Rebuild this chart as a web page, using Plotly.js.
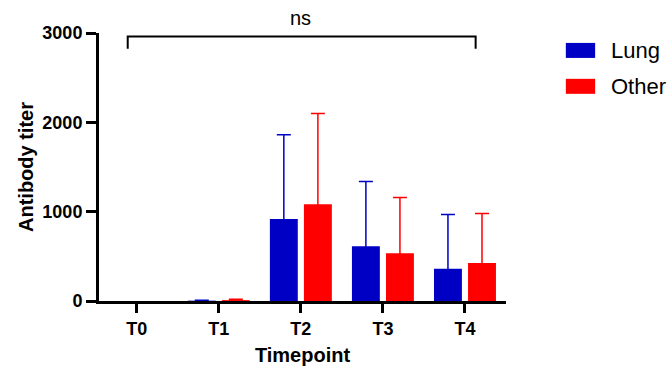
<!DOCTYPE html>
<html><head><meta charset="utf-8">
<script src="https://cdn.plot.ly/plotly-3.0.1.min.js"></script>
<style>html,body{margin:0;padding:0;background:#fff}#chart{width:670px;height:372px}</style>
</head><body><div id="chart"></div>
<script>
const categories = ["T0", "T1", "T2", "T3", "T4"];
const seriesNames = ["Lung", "Other"];
const lungValues = [0, 4, 919, 613, 362];
const lungErrors = [null, 4, 942, 724, 605];
const otherValues = [0, 10, 1084, 535, 426];
const otherErrors = [null, 10, 1016, 623, 553];
const yTicks = [0, 1000, 2000, 3000];
const sigLabel = "ns";

const colors = ["#0000C4", "#FF0000"];
const font = "Liberation Sans, Arial, sans-serif";

function mkTrace(name, vals, errs, color) {
  return {
    type: "bar", name: name, x: categories, y: vals,
    marker: {color: color, line: {width: 0}},
    error_y: {type: "data", symmetric: false,
      array: errs.map(e => e == null ? undefined : e),
      arrayminus: vals.map((v, i) => errs[i] == null ? undefined : v),
      color: color, thickness: 1.5, width: 7},
    showlegend: false, cliponaxis: false
  };
}
const data = [
  mkTrace(seriesNames[0], lungValues, lungErrors, colors[0]),
  mkTrace(seriesNames[1], otherValues, otherErrors, colors[1])
];

const legendShapes = [], legendAnn = [];
seriesNames.forEach((n, i) => {
  const top = 0.963 - i * 0.134;
  legendShapes.push({type: "rect", xref: "paper", yref: "paper",
    x0: 1.147, x1: 1.219, y0: top - 0.056, y1: top,
    fillcolor: colors[i], line: {width: 0}});
  legendAnn.push({xref: "paper", yref: "paper", x: 1.252, y: top - 0.028,
    xanchor: "left", yanchor: "middle", text: n, showarrow: false,
    font: {family: font, size: 22, color: "#000"}});
});

const layout = {
  width: 670, height: 372,
  margin: {l: 99, r: 164, t: 33, b: 71},
  paper_bgcolor: "#fff", plot_bgcolor: "#fff",
  barmode: "group", bargap: 0.17, bargroupgap: 0.18,
  xaxis: {
    type: "category", range: [-0.46, 4.5],
    showline: true, linecolor: "#000", linewidth: 3,
    ticks: "outside", ticklen: 9, tickwidth: 3, tickcolor: "#000",
    showgrid: false, zeroline: false,
    tickfont: {family: font, size: 18, color: "#000", weight: "bold"},
    title: {text: "<b>Timepoint</b>", standoff: 11, font: {family: font, size: 20, color: "#000"}}
  },
  yaxis: {
    range: [0, 3000], tickvals: yTicks, ticktext: yTicks.map(String),
    showline: true, linecolor: "#000", linewidth: 3,
    ticks: "outside", ticklen: 10, tickwidth: 3, tickcolor: "#000",
    showgrid: false, zeroline: false,
    tickfont: {family: font, size: 18, color: "#000", weight: "bold"},
    title: {text: "<b>Antibody titer</b>", standoff: 4, font: {family: font, size: 20, color: "#000"}}
  },
  shapes: [
    {type: "path", xref: "x", yref: "y",
     path: "M -0.11,2825 L -0.11,2960 L 4.13,2960 L 4.13,2825",
     line: {color: "#000", width: 2}}
  ].concat(legendShapes),
  annotations: [
    {xref: "x", yref: "paper", x: 2, y: 1.056, text: sigLabel, showarrow: false,
     xanchor: "center", yanchor: "middle", font: {family: font, size: 20, color: "#000"}}
  ].concat(legendAnn)
};
Plotly.newPlot("chart", data, layout, {displayModeBar: false, staticPlot: true});
</script></body></html>
